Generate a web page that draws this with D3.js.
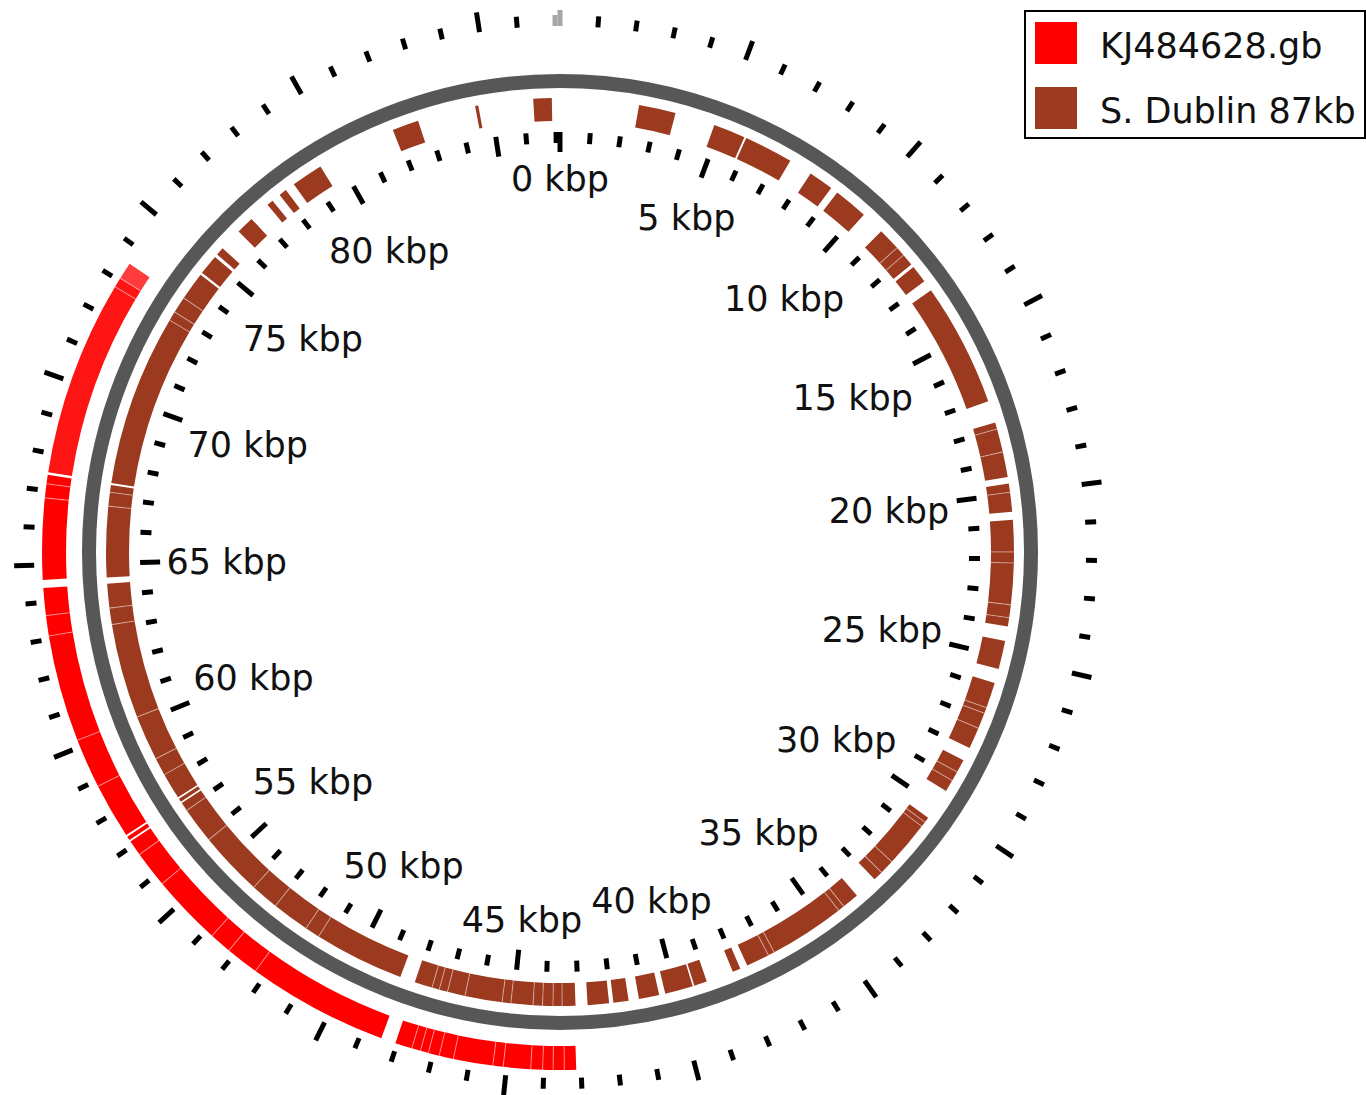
<!DOCTYPE html>
<html><head><meta charset="utf-8">
<script src="https://cdn.jsdelivr.net/npm/d3@7"></script>
<style>
html,body{margin:0;padding:0;background:#fff;}
svg{display:block;}
</style></head>
<body>
<svg id="chart" width="1366" height="1095"></svg>
<script>
// ---------------- DATA ----------------
const genomeLengthKbp = 87.13;
const tickLabelValues = [0, 5, 10, 15, 20, 25, 30, 35, 40, 45, 50, 55, 60, 65, 70, 75, 80];
const tickLabelSuffix = " kbp";
const legendLabels = ["KJ484628.gb", "S. Dublin 87kb"];
const legendColors = ["#ff0000", "#9c3a20"];

// BLAST hits of S. Dublin 87kb reference (inner ring), [start, end] in kbp
const dublinHits = [
  [2.43, 3.57],
  [4.81, 5.80], [5.86, 7.38],
  [8.11, 8.88],
  [9.11, 10.17],
  [10.90, 11.60], [11.60, 11.90], [11.90, 12.27],
  [12.37, 12.92],
  [13.26, 17.09],
  [17.77, 17.98], [17.98, 18.70], [18.70, 19.48],
  [19.68, 19.95], [19.95, 20.55],
  [20.80, 21.78], [21.78, 22.12], [22.12, 23.40], [23.40, 23.80], [23.80, 24.07],
  [24.52, 25.40],
  [25.84, 26.64], [26.64, 26.82], [26.82, 27.31], [27.31, 27.97],
  [28.39, 28.80], [28.80, 29.10], [29.10, 29.47],
  [30.45, 30.62], [30.62, 30.78], [30.78, 32.20], [32.20, 32.65], [32.65, 32.95],
  [33.68, 34.20], [34.20, 34.40], [34.40, 36.75], [36.75, 36.95], [36.95, 37.67],
  [37.90, 38.15],
  [39.00, 39.40],
  [39.45, 40.32],
  [40.51, 41.14],
  [41.46, 41.93],
  [42.06, 42.72],
  [43.09, 43.50], [43.50, 43.78], [43.78, 44.10], [44.10, 44.39], [44.39, 45.07],
  [45.07, 45.34], [45.34, 46.49], [46.49, 47.04], [47.04, 47.30], [47.30, 47.53], [47.53, 48.08],
  [48.55, 51.34], [51.34, 51.80], [51.80, 52.96], [52.96, 53.83], [53.83, 55.83],
  [55.83, 56.95], [56.95, 57.22],
  [57.27, 57.38],
  [57.43, 58.24], [58.24, 58.79], [58.79, 60.19], [60.19, 63.12], [63.12, 63.63], [63.63, 64.38],
  [64.57, 66.75], [66.75, 67.18], [67.18, 67.40],
  [67.46, 72.78], [72.78, 73.07], [73.07, 73.58], [73.58, 74.46],
  [74.53, 75.16],
  [75.26, 75.51],
  [76.22, 76.77],
  [77.42, 77.62],
  [77.90, 78.14],
  [78.44, 79.42],
  [81.90, 82.72],
  [84.52, 84.62],
  [86.31, 86.88]
];

// BLAST hits of KJ484628 (outer ring), [start, end] in kbp, with % identity
const kjHits = [
  [43.13, 43.45], [43.45, 43.75], [43.75, 44.03], [44.03, 44.35], [44.35, 45.09], [45.09, 45.37],
  [45.37, 46.44], [46.44, 46.83], [46.83, 47.13], [47.13, 47.35], [47.35, 47.59], [47.59, 48.05],
  [48.45, 52.28], [52.28, 53.18], [53.18, 53.78], [53.78, 55.71], [55.71, 56.70], [56.70, 57.12],
  [57.17, 57.28],
  [57.33, 58.84], [58.84, 60.19], [60.19, 63.09], [63.09, 63.64], [63.64, 64.38],
  [64.60, 66.80], [66.80, 67.18], [67.18, 67.42],
  [67.49, 72.80], [72.80, 73.07], [73.07, 73.53]
];
const kjIdentity = [
  100, 100, 100, 100, 100, 100, 100, 100, 100, 100, 100, 100,
  100, 100, 100, 100, 100, 100,
  100,
  100, 100, 100, 100, 100,
  100, 100, 100,
  98, 98, 94
];

// ---------------- DRAW ----------------
const svg = d3.select("#chart");
const W = 1366, H = 1095;
svg.append("rect").attr("width", W).attr("height", H).attr("fill", "#fff");

const cx = 560, cy = 552;
const g = svg.append("g").attr("transform", `translate(${cx},${cy})`);

const angle = d3.scaleLinear().domain([0, genomeLengthKbp]).range([0, 2 * Math.PI]);
const pt = (a, r) => [r * Math.sin(a), -r * Math.cos(a)];

const ringDublin = {inner: 431, outer: 454};
const ringBackbone = {r: 471, width: 14};
const ringKJ = {inner: 494, outer: 518};

const dublinColor = legendColors[1];
const kjColor = d3.scaleLinear().domain([94, 100]).range(["#ff3b3b", "#ff0000"]).clamp(true);

function drawHits(hits, ring, colorFn, cls) {
  const arc = d3.arc().innerRadius(ring.inner).outerRadius(ring.outer);
  const grp = g.append("g").attr("class", cls);
  grp.selectAll("path.hit").data(hits).join("path")
    .attr("class", "hit")
    .attr("d", d => arc({startAngle: angle(d[0]), endAngle: angle(d[1])}))
    .attr("fill", (d, i) => colorFn(d, i));
  // light separators where consecutive hits abut
  const seps = hits.filter((d, i) => i > 0 && d[0] === hits[i - 1][1]).map(d => d[0]);
  grp.selectAll("line.sep").data(seps).join("line")
    .attr("class", "sep")
    .attr("x1", d => pt(angle(d), ring.inner)[0]).attr("y1", d => pt(angle(d), ring.inner)[1])
    .attr("x2", d => pt(angle(d), ring.outer)[0]).attr("y2", d => pt(angle(d), ring.outer)[1])
    .attr("stroke", "#fff").attr("stroke-opacity", 0.4).attr("stroke-width", 1.1);
}

drawHits(dublinHits, ringDublin, () => dublinColor, "dublin");
drawHits(kjHits, ringKJ, (d, i) => kjColor(kjIdentity[i]), "kj");

// backbone
g.append("circle").attr("r", ringBackbone.r).attr("fill", "none")
  .attr("stroke", "#575757").attr("stroke-width", ringBackbone.width);

// ticks
const tickValues = d3.range(0, Math.floor(genomeLengthKbp) + 1);
const innerTicks = {outer: 420, minor: 409, major: 400};
const outerTicks = {inner: 526, minor: 537, major: 546};

g.append("g").selectAll("line").data(tickValues).join("line")
  .attr("x1", d => pt(angle(d), innerTicks.outer)[0]).attr("y1", d => pt(angle(d), innerTicks.outer)[1])
  .attr("x2", d => pt(angle(d), d % 5 === 0 ? innerTicks.major : innerTicks.minor)[0])
  .attr("y2", d => pt(angle(d), d % 5 === 0 ? innerTicks.major : innerTicks.minor)[1])
  .attr("stroke", "#000").attr("stroke-width", 5);

g.append("g").selectAll("line").data(tickValues).join("line")
  .attr("x1", d => pt(angle(d), outerTicks.inner)[0]).attr("y1", d => pt(angle(d), outerTicks.inner)[1])
  .attr("x2", d => pt(angle(d), d % 5 === 0 ? outerTicks.major - 4 * (d === 0) : outerTicks.minor)[0])
  .attr("y2", d => pt(angle(d), d % 5 === 0 ? outerTicks.major - 4 * (d === 0) : outerTicks.minor)[1])
  .attr("stroke", d => (d === 0 || d === Math.floor(genomeLengthKbp)) ? "#a6a6a6" : "#000")
  .attr("stroke-width", 5);

// tick labels
const labelR = 394, labelH = 39.5;
const labels = g.append("g").selectAll("text").data(tickLabelValues).join("text")
  .attr("font-family", "'DejaVu Sans', sans-serif")
  .attr("font-size", 35)
  .attr("fill", "#111")
  .attr("text-anchor", "middle")
  .text(d => d + tickLabelSuffix);
labels.each(function(d) {
  const w = this.getComputedTextLength();
  const a = angle(d);
  const rc = labelR - (w / 2) * Math.abs(Math.sin(a)) - (labelH / 2) * Math.abs(Math.cos(a));
  const p = pt(a, rc);
  d3.select(this).attr("x", p[0]).attr("y", p[1] + 13.5);
});

// legend
const lg = svg.append("g");
lg.append("rect").attr("x", 1025).attr("y", 11).attr("width", 340).attr("height", 127)
  .attr("fill", "#fff").attr("stroke", "#000").attr("stroke-width", 2);
lg.selectAll("rect.sw").data(legendColors).join("rect").attr("class", "sw")
  .attr("x", 1035).attr("y", (d, i) => 22 + i * 65).attr("width", 42).attr("height", 42)
  .attr("fill", d => d);
lg.selectAll("text").data(legendLabels).join("text")
  .attr("x", 1100).attr("y", (d, i) => 58 + i * 65)
  .attr("font-family", "'DejaVu Sans', sans-serif").attr("font-size", 35).attr("fill", "#111")
  .text(d => d);
</script>
</body></html>
